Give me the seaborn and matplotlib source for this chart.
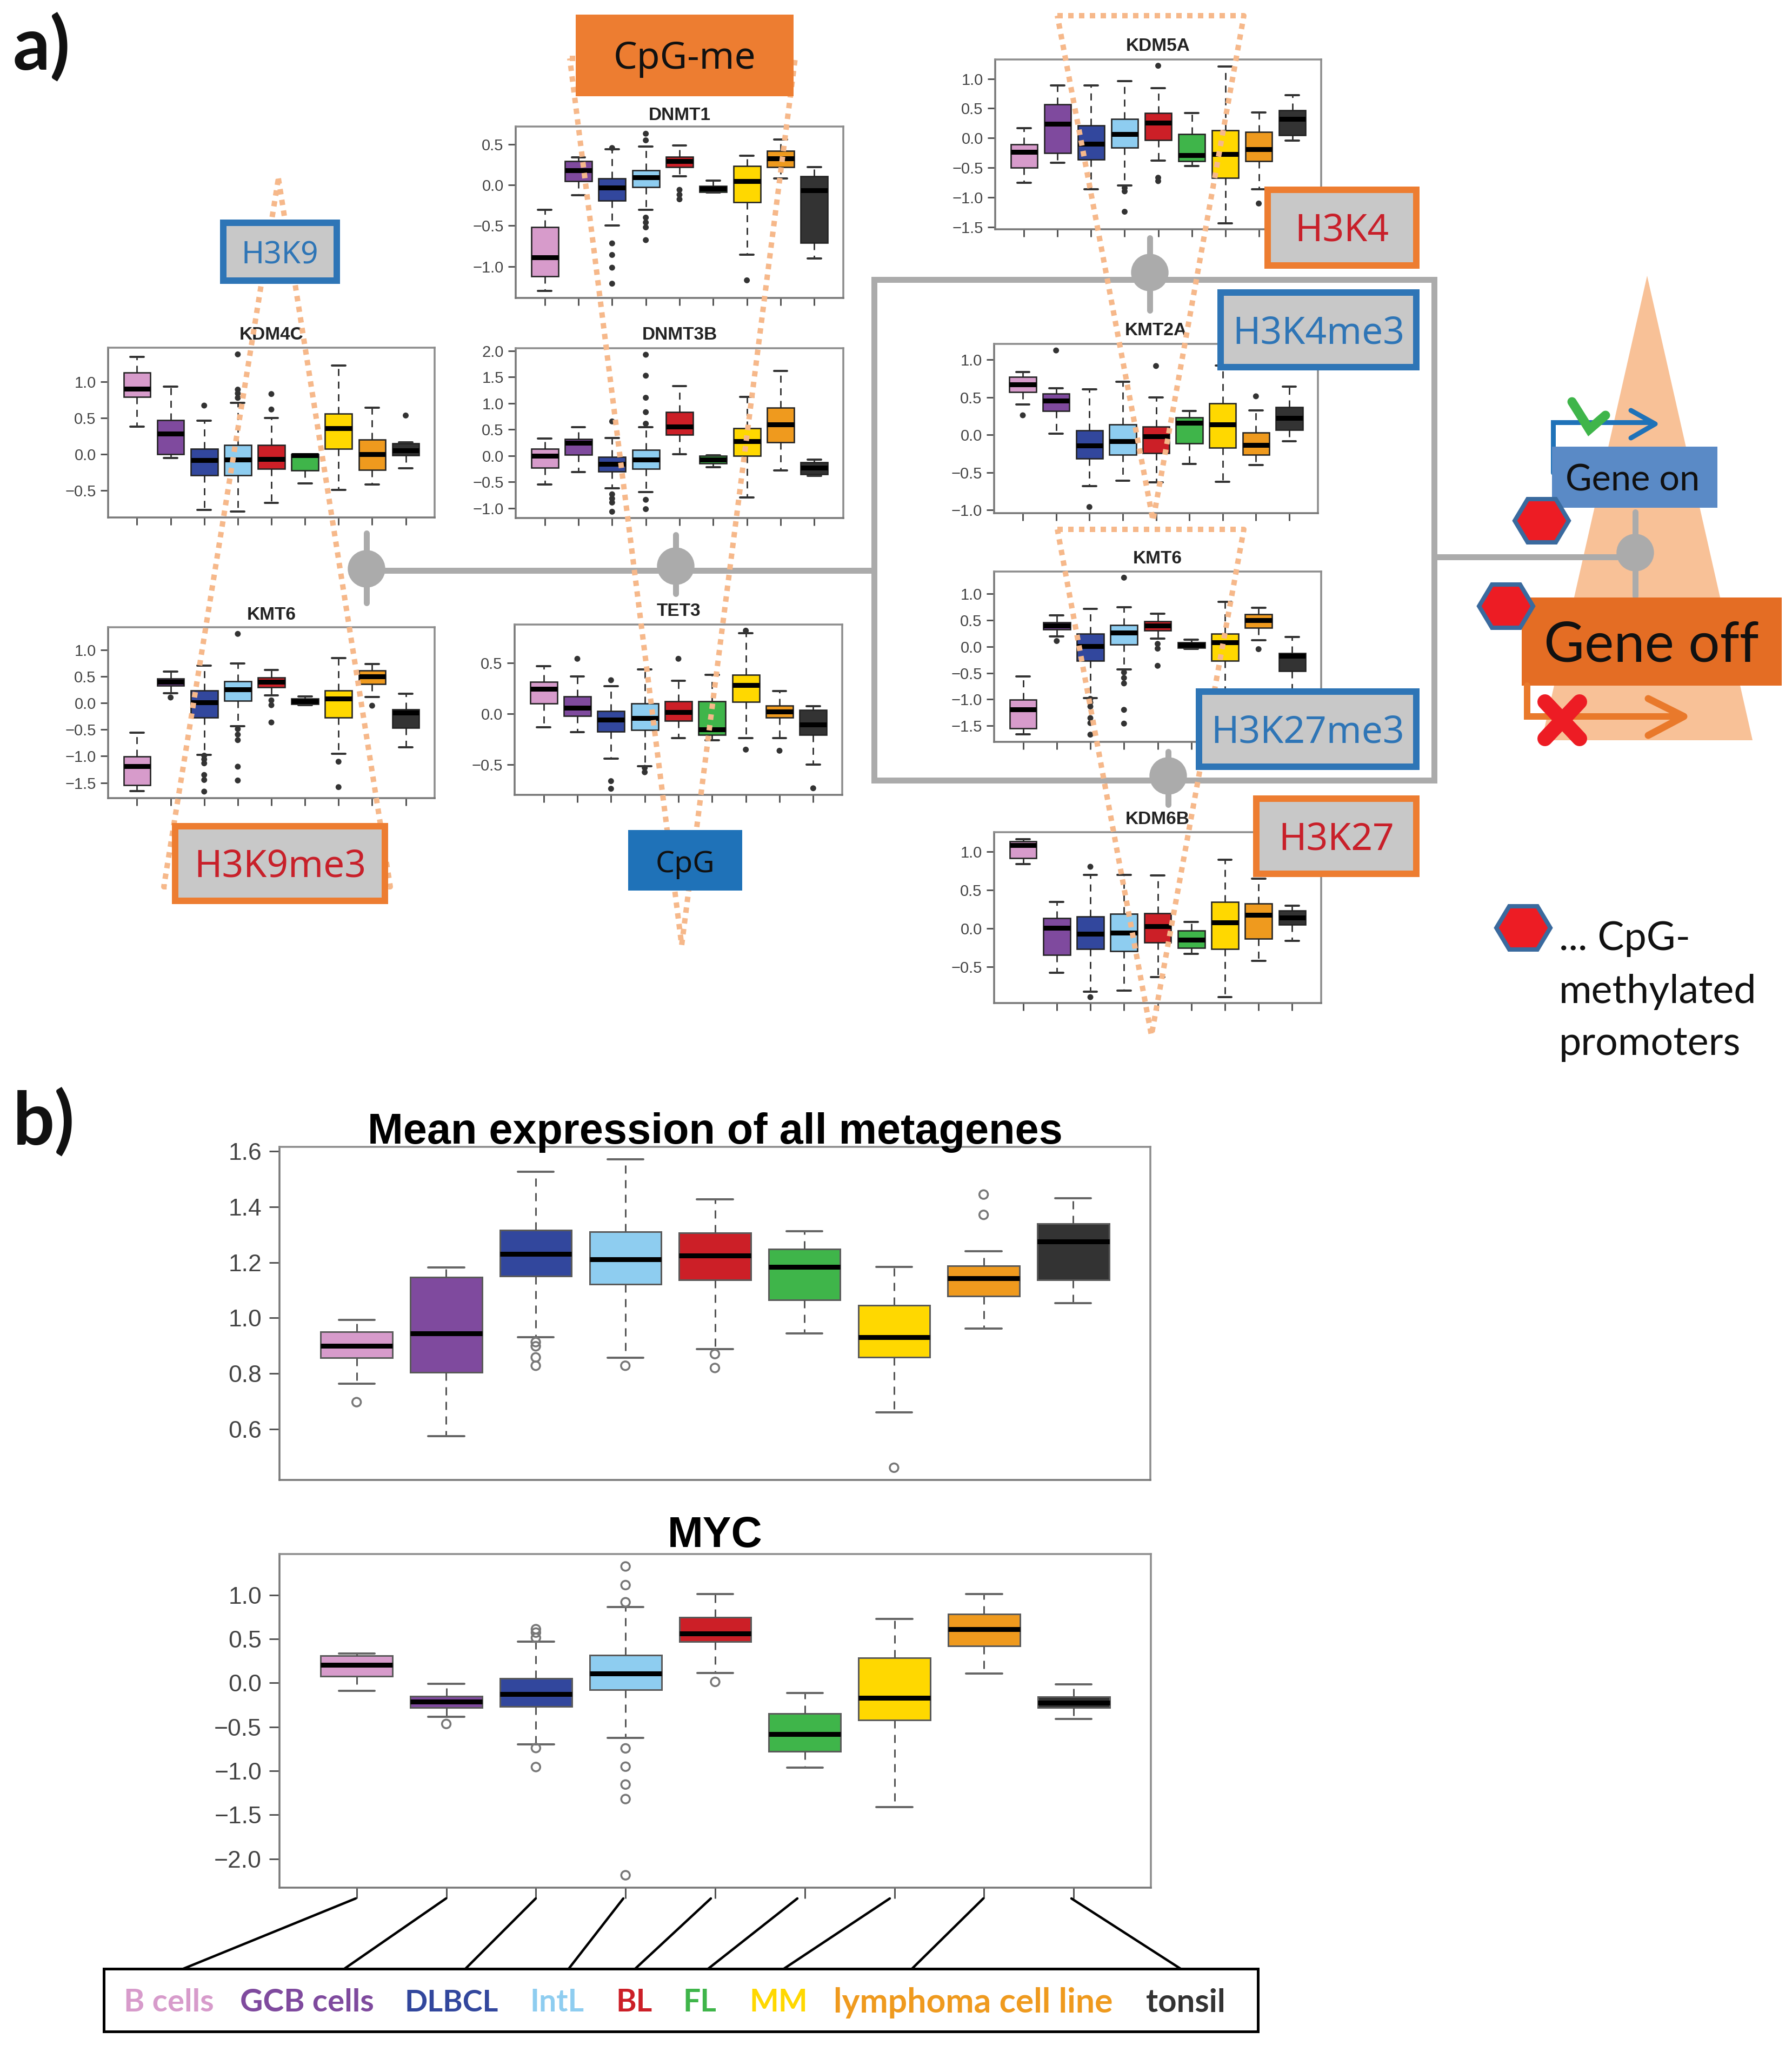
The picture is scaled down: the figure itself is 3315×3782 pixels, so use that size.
import matplotlib
matplotlib.use("Agg")
import matplotlib.pyplot as plt
import pandas as pd
import seaborn as sns
from matplotlib.patches import Rectangle, Polygon, Ellipse

W, H = 3315, 3782

# ---------------- categories and colours ----------------
GROUPS = ["B cells", "GCB cells", "DLBCL", "IntL", "BL", "FL", "MM", "lymphoma cell line", "tonsil"]
COLORS = ["#D79BCB", "#7F4A9E", "#32479D", "#8ECDF0", "#CC1F27", "#3FB54A", "#FFD800", "#EF9A1E", "#333333"]

# ---------------- values: [whisker low, Q1, median, Q3, whisker high] per group; outliers per group ----------------
KDM4C = [[0.38, 0.79, 0.904, 1.125, 1.337], [-0.053, 0.0, 0.281, 0.471, 0.927], [-0.767, -0.289, -0.084, 0.076, 0.464],
         [-0.79, -0.289, -0.076, 0.122, 0.707], [-0.676, -0.205, -0.068, 0.122, 0.5], [-0.403, -0.228, -0.02, 0.0, 0.0],
         [-0.494, 0.076, 0.357, 0.555, 1.223], [-0.418, -0.22, 0.0, 0.198, 0.638], [-0.198, -0.015, 0.053, 0.144, 0.16]]
KDM4C_OUT = [[], [], [0.669], [1.375, 0.889, 0.836, 0.775], [0.828, 0.615], [], [], [], [0.532]]

KMT6 = [[-1.656, -1.55, -1.19, -1.01, -0.5625], [0.1875, 0.323, 0.396, 0.458, 0.594], [-0.98, -0.27, 0.01, 0.24, 0.708],
        [-0.4375, 0.04, 0.26, 0.406, 0.74], [0.146, 0.302, 0.396, 0.479, 0.625], [-0.04, -0.02, 0.03, 0.083, 0.125],
        [-0.958, -0.27, 0.083, 0.24, 0.844], [0.115, 0.354, 0.5, 0.615, 0.73], [-0.833, -0.469, -0.177, -0.125, 0.177]]
KMT6_OUT = [[], [0.104], [-0.99, -1.06, -1.135, -1.354, -1.448, -1.667], [1.302, -0.49, -0.594, -0.698, -1.198, -1.458],
            [0.05, -0.04, -0.365], [], [-1.104, -1.583], [-0.05], []]

DNMT1 = [[-1.297, -1.12, -0.885, -0.52, -0.304], [-0.128, 0.047, 0.182, 0.29, 0.338], [-0.5, -0.19, -0.034, 0.08, 0.44],
         [-0.304, -0.027, 0.095, 0.182, 0.473], [0.108, 0.216, 0.29, 0.345, 0.486], [-0.095, -0.088, -0.047, -0.014, 0.054],
         [-0.858, -0.21, 0.047, 0.23, 0.358], [0.08, 0.216, 0.324, 0.419, 0.554], [-0.899, -0.709, -0.068, 0.108, 0.216]]
DNMT1_OUT = [[], [], [0.453, -0.716, -0.858, -1.014, -1.21], [0.628, 0.547, -0.4, -0.46, -0.52, -0.676],
             [-0.06, -0.12, -0.176], [], [-1.169], [], []]

DNMT3B = [[-0.547, -0.23, 0.0, 0.126, 0.326], [-0.316, 0.02, 0.242, 0.316, 0.547], [-0.62, -0.305, -0.158, -0.02, 0.337],
          [-0.695, -0.253, -0.074, 0.105, 0.547], [0.03, 0.4, 0.558, 0.832, 1.326], [-0.22, -0.147, -0.074, 0.0, 0.01],
          [-0.8, 0.0, 0.274, 0.526, 1.126], [-0.284, 0.253, 0.59, 0.916, 1.62], [-0.39, -0.358, -0.232, -0.126, -0.074]]
DNMT3B_OUT = [[], [], [0.653, -0.737, -0.82, -0.895, -1.07], [1.926, 1.526, 1.105, 0.83, 0.61, -0.842, -1.02],
              [], [], [], [], []]

TET3 = [[-0.13, 0.103, 0.243, 0.314, 0.47], [-0.178, -0.022, 0.06, 0.168, 0.368], [-0.438, -0.173, -0.06, 0.027, 0.27],
        [-0.514, -0.157, -0.043, 0.103, 0.438], [-0.238, -0.07, 0.016, 0.124, 0.324], [-0.26, -0.205, -0.151, 0.124, 0.384],
        [-0.238, 0.119, 0.281, 0.384, 0.79], [-0.238, -0.038, 0.022, 0.081, 0.222], [-0.497, -0.205, -0.108, 0.038, 0.076]]
TET3_OUT = [[], [0.54], [0.33, -0.66, -0.735], [-0.53, -0.573], [0.54], [], [0.816, -0.351], [-0.362], [-0.73]]

KDM5A = [[-0.756, -0.5, -0.238, -0.105, 0.169], [-0.419, -0.256, 0.238, 0.57, 0.89], [-0.866, -0.366, -0.099, 0.21, 0.89],
         [-0.8, -0.163, 0.07, 0.32, 0.965], [-0.378, -0.03, 0.262, 0.419, 0.843], [-0.471, -0.39, -0.285, 0.064, 0.424],
         [-1.436, -0.669, -0.267, 0.128, 1.203], [-0.866, -0.39, -0.186, 0.105, 0.436], [-0.04, 0.052, 0.32, 0.465, 0.727]]
KDM5A_OUT = [[], [], [], [-0.843, -0.9, -1.244], [1.22, -0.67, -0.727], [], [], [-1.105], []]

KMT2A = [[0.404, 0.573, 0.67, 0.775, 0.835], [0.014, 0.321, 0.454, 0.546, 0.624], [-0.683, -0.317, -0.142, 0.06, 0.606],
         [-0.606, -0.261, -0.083, 0.142, 0.706], [-0.628, -0.239, -0.018, 0.11, 0.5], [-0.385, -0.11, 0.16, 0.234, 0.317],
         [-0.624, -0.174, 0.138, 0.417, 0.92], [-0.4, -0.261, -0.133, 0.028, 0.326], [-0.087, 0.069, 0.225, 0.367, 0.642]]
KMT2A_OUT = [[0.261], [1.124], [-0.959], [], [0.917], [], [], [0.514], []]

KDM6B = [[0.838, 0.919, 1.09, 1.135, 1.162], [-0.581, -0.342, 0.005, 0.135, 0.347], [-0.824, -0.266, -0.072, 0.153, 0.703],
         [-0.811, -0.293, -0.059, 0.189, 0.703], [-0.631, -0.18, 0.027, 0.198, 0.689], [-0.333, -0.252, -0.144, -0.027, 0.086],
         [-0.892, -0.266, 0.077, 0.347, 0.9], [-0.423, -0.135, 0.176, 0.324, 0.65], [-0.158, 0.05, 0.14, 0.234, 0.297]]
KDM6B_OUT = [[], [], [0.806, -0.896], [], [], [], [], [], []]

MEAN_ALL = [[0.764, 0.856, 0.90, 0.95, 0.993], [0.575, 0.804, 0.944, 1.147, 1.181], [0.93, 1.151, 1.231, 1.315, 1.527],
            [0.856, 1.121, 1.21, 1.31, 1.57], [0.888, 1.136, 1.225, 1.306, 1.427], [0.945, 1.064, 1.184, 1.248, 1.312],
            [0.66, 0.858, 0.93, 1.045, 1.183], [0.962, 1.079, 1.143, 1.187, 1.24], [1.054, 1.136, 1.276, 1.339, 1.431]]
MEAN_ALL_OUT = [[0.697], [], [0.913, 0.898, 0.858, 0.828], [0.828], [0.87, 0.82], [], [0.461], [1.444, 1.371], []]

MYC = [[-0.09, 0.074, 0.208, 0.309, 0.337], [-0.384, -0.282, -0.21, -0.153, -0.012], [-0.697, -0.27, -0.125, 0.05, 0.47],
       [-0.623, -0.078, 0.106, 0.313, 0.862], [0.11, 0.47, 0.56, 0.748, 1.01], [-0.964, -0.776, -0.58, -0.345, -0.114],
       [-1.41, -0.423, -0.172, 0.282, 0.725], [0.106, 0.423, 0.611, 0.783, 1.01], [-0.407, -0.282, -0.223, -0.16, -0.016]]
MYC_OUT = [[], [-0.466], [0.611, 0.572, 0.513, -0.74, -0.956],
           [1.324, 1.112, 0.917, -0.744, -0.952, -1.155, -1.32, -2.186], [0.012], [], [], [], []]

# ---------------- figure ----------------
sns.set_theme(style="ticks")
plt.rcParams["font.family"] = ["Liberation Sans", "DejaVu Sans"]
fig = plt.figure(figsize=(W / 100, H / 100), dpi=100, facecolor="white")
PT = 72 / 100  # points per output pixel


def make_axes(x0, y0, x1, y1):
    return fig.add_axes([x0 / W, 1 - y1 / H, (x1 - x0) / W, (y1 - y0) / H])


def panel(stats, outliers, frame, ylim, yticks, title, title_y, big=False, bottom_ticks=True):
    ax = make_axes(*frame)
    rows = [(g, v) for g, s in zip(GROUPS, stats) for v in s]
    df = pd.DataFrame(rows, columns=["group", "value"])
    lw = 3.0 if big else 2.6
    sns.boxplot(data=df, x="group", y="value", hue="group", order=GROUPS, hue_order=GROUPS,
                palette=COLORS, saturation=1, width=0.8, whis=(0, 100), showfliers=False, legend=False,
                linecolor="#5a5a5a" if big else "#222222", linewidth=lw * PT, ax=ax,
                medianprops={"color": "black", "linewidth": 9 * PT, "solid_capstyle": "butt"},
                whiskerprops={"linestyle": (0, (5, 4)), "color": "#555555" if big else "#222222"},
                capprops={"color": "#666666" if big else "#333333", "linewidth": 4 * PT})
    out = pd.DataFrame([(i, v) for i, o in enumerate(outliers) for v in o], columns=["pos", "value"])
    if big:
        sns.scatterplot(data=out, x="pos", y="value", s=130, marker="o", facecolor="none",
                        edgecolor="#777777", linewidth=3.5 * PT, ax=ax, zorder=5, legend=False)
    else:
        sns.scatterplot(data=out, x="pos", y="value", s=62, marker="o", color="#333333",
                        edgecolor="none", ax=ax, zorder=5, legend=False)
    ax.set_xlim(-0.861, 8.861)
    ax.set_ylim(*ylim)
    ax.set_yticks(yticks)
    ax.set_xticks(range(9))
    ax.set_xticklabels([])
    ax.set_xlabel("")
    ax.set_ylabel("")
    size = 32 if big else 21
    ax.tick_params(axis="y", length=(19 if big else 14) * PT, width=3 * PT, labelsize=size,
                   color="#555555", labelcolor="#444444", pad=10 if big else 6)
    ax.tick_params(axis="x", length=(20 if big else 14) * PT if bottom_ticks else 0, width=3 * PT, color="#555555")
    for name, spine in ax.spines.items():
        spine.set_visible(True)
        spine.set_color("#777777" if name in ("left", "bottom") else "#8c8c8c")
        spine.set_linewidth(3.5 * PT)
    ax.patch.set_alpha(0)
    fig.text((frame[0] + frame[2]) / 2 / W, 1 - (title_y + (7 if big else 3)) / H, title, ha="center", va="center",
             fontsize=57 if big else 24, fontweight="bold", color="black" if big else "#222222")
    return ax


panel(KDM4C, KDM4C_OUT, (200, 643, 804, 957), (-0.874, 1.467), [-0.5, 0, 0.5, 1.0], "KDM4C", 616)
panel(KMT6, KMT6_OUT, (200, 1160, 804, 1476), (-1.79, 1.427), [-1.5, -1, -0.5, 0, 0.5, 1.0], "KMT6", 1134)
panel(DNMT1, DNMT1_OUT, (954, 234, 1560, 551), (-1.385, 0.716), [-1, -0.5, 0, 0.5], "DNMT1", 210)
panel(DNMT3B, DNMT3B_OUT, (954, 644, 1560, 958), (-1.19, 2.05), [-1, -0.5, 0, 0.5, 1, 1.5, 2], "DNMT3B", 616)
panel(TET3, TET3_OUT, (952, 1155, 1558, 1470), (-0.795, 0.876), [-0.5, 0, 0.5], "TET3", 1128)
panel(KDM5A, KDM5A_OUT, (1841, 110, 2444, 424), (-1.54, 1.326), [-1.5, -1, -0.5, 0, 0.5, 1.0], "KDM5A", 83)
panel(KMT2A, KMT2A_OUT, (1839, 636, 2438, 949), (-1.041, 1.211), [-1, -0.5, 0, 0.5, 1.0], "KMT2A", 609)
panel(KMT6, KMT6_OUT, (1839, 1057, 2444, 1372), (-1.804, 1.418), [-1.5, -1, -0.5, 0, 0.5, 1.0], "KMT6", 1030)
panel(KDM6B, KDM6B_OUT, (1839, 1539, 2444, 1855), (-0.973, 1.257), [-0.5, 0, 0.5, 1.0], "KDM6B", 1513)
panel(MEAN_ALL, MEAN_ALL_OUT, (517, 2121, 2128, 2737), (0.417, 1.6156), [0.6, 0.8, 1.0, 1.2, 1.4, 1.6],
      "Mean expression of all metagenes", 2087, big=True, bottom_ticks=False)
panel(MYC, MYC_OUT, (517, 2874, 2129, 3491), (-2.327, 1.465), [-2, -1.5, -1, -0.5, 0, 0.5, 1.0], "MYC", 2834, big=True)

# ---------------- overlay drawn in image pixels ----------------
ov = fig.add_axes([0, 0, 1, 1], zorder=10)
ov.set_xlim(0, W)
ov.set_ylim(H, 0)
ov.axis("off")
ov.patch.set_alpha(0)

GREY = "#ABABAB"
DOT = "#F6B88A"
BLUE = "#2E75B6"
ORANGE = "#ED7D31"
RED = "#C8202A"
LABEL_BG = "#C8C8C8"
ANNOT_FONT = ["Lato", "DejaVu Sans"]
LABEL_FONT = ["Noto Sans", "DejaVu Sans"]


def line(xs, ys, color, px, z=2, **kw):
    ov.plot(xs, ys, color=color, lw=px * PT, zorder=z, **kw)


# gene-activity triangle
ov.add_patch(Polygon([(3047, 510), (3242, 1369), (2852, 1369)], closed=True, facecolor="#F8C197",
                     edgecolor="none", zorder=1))

# grey wiring
line([678, 1617], [1055, 1055], GREY, 11)
line([2127, 1617, 1617, 2653, 2653, 1617], [517, 517, 1443, 1443, 517, 517], GREY, 11, solid_joinstyle="miter")
line([2653, 3025], [1030, 1030], GREY, 11)
for cx, cy, y0, y1 in [(678, 1052, 986, 1115), (1250, 1047, 989, 1098), (2127, 504, 440, 574),
                       (2161, 1435, 1390, 1488), (3025, 1022, 947, 1102)]:
    line([cx, cx], [y0, y1], GREY, 11)
    ov.add_patch(Ellipse((cx, cy), 68, 68, color=GREY, zorder=2))

# dotted orange triangles
for pts in [[(515, 330), (722, 1640), (303, 1640)],
            [(1054, 108), (1471, 108), (1261, 1748)],
            [(1956, 29), (2301, 29), (2133, 963)],
            [(1956, 979), (2301, 979), (2130, 1915)]]:
    xs = [p[0] for p in pts] + [pts[0][0]]
    ys = [p[1] for p in pts] + [pts[0][1]]
    line(xs, ys, DOT, 10, z=3, linestyle=(0, (1, 1)), dash_capstyle="butt")


def label(x0, y0, x1, y1, text, edge, color, size, face=LABEL_BG):
    ov.add_patch(Rectangle((x0, y0), x1 - x0, y1 - y0, facecolor=face, edgecolor=edge,
                           linewidth=12 * PT if edge != "none" else 0, zorder=4))
    ov.text((x0 + x1) / 2, (y0 + y1) / 2 + 7, text, ha="center", va="center", color=color,
            fontsize=size, family=LABEL_FONT, zorder=5)


label(413, 412, 623, 519, "H3K9", BLUE, BLUE, 41)
label(324, 1528, 712, 1666, "H3K9me3", ORANGE, RED, 50)
label(1162, 1535, 1373, 1647, "CpG", "none", "#111111", 40, face="#1F72B8")
label(1065, 27, 1468, 178, "CpG-me", "none", "#111111", 50, face=ORANGE)
label(2345, 351, 2620, 491, "H3K4", ORANGE, RED, 50)
label(2258, 541, 2620, 679, "H3K4me3", BLUE, BLUE, 50)
label(2218, 1279, 2620, 1418, "H3K27me3", BLUE, BLUE, 50)
label(2324, 1477, 2620, 1616, "H3K27", ORANGE, RED, 50)

# gene on
line([2873, 2873, 3056], [874, 781, 781], "#1F72B8", 9, z=3, solid_joinstyle="miter")
line([3017, 3062, 3017], [759, 784, 810], "#1F72B8", 9, z=3)
line([2908, 2940, 2970], [743, 794, 768], "#3FB54A", 17, z=4, solid_joinstyle="miter")
ov.add_patch(Rectangle((2871, 826), 306, 113, facecolor="#5A8AC6", edgecolor="none", zorder=3))
ov.text(3020, 888, "Gene on", ha="center", va="center", fontsize=48, family=ANNOT_FONT, color="#111111", zorder=5)

# gene off
ov.add_patch(Rectangle((2815, 1105), 481, 163, facecolor="#E46D24", edgecolor="none", zorder=3))
ov.text(3055, 1194, "Gene off", ha="center", va="center", fontsize=74, family=ANNOT_FONT, color="#111111", zorder=5)
line([2825, 2825, 3105], [1268, 1325, 1325], "#E9792B", 12, z=3, solid_joinstyle="miter")
line([3049, 3115, 3049], [1292, 1325, 1360], "#E9792B", 13, z=3)
line([2858, 2922], [1298, 1366], "#ED1C24", 28, z=4)
line([2922, 2858], [1298, 1366], "#ED1C24", 28, z=4)


def hexagon(cx, cy):
    ov.add_patch(Polygon([(cx - 50, cy), (cx - 26, cy - 40), (cx + 26, cy - 40), (cx + 50, cy),
                          (cx + 26, cy + 40), (cx - 26, cy + 40)], closed=True, facecolor="#ED1C24",
                         edgecolor="#3A6A9E", linewidth=8 * PT, zorder=6))


hexagon(2852, 963)
hexagon(2786, 1121)
hexagon(2818, 1716)
for txt, y in zip(["... CpG-", "methylated", "promoters"], [1737, 1834, 1930]):
    ov.text(2884, y, txt, ha="left", va="center", fontsize=53, family=ANNOT_FONT, color="#111111", zorder=5)

# panel letters
ov.text(24, 88, "a)", ha="left", va="center", fontsize=98, fontweight="bold", family=ANNOT_FONT, color="#111111")
ov.text(24, 2076, "b)", ha="left", va="center", fontsize=98, fontweight="bold", family=ANNOT_FONT, color="#111111")

# legend box with connectors
ov.add_patch(Rectangle((192, 3641), 2135, 116, facecolor="white", edgecolor="black", linewidth=5 * PT, zorder=4))
for x0, x1 in [(658, 339), (825, 637), (991, 861), (1153, 1052), (1315, 1175),
               (1475, 1310), (1646, 1450), (1819, 1687), (1982, 2184)]:
    line([x0, x1], [3511, 3641], "black", 4.5, z=3)
for name, col, x0, x1, fs in zip(GROUPS, COLORS,
                                 [227, 445, 753, 980, 1143, 1268, 1384, 1543, 2118],
                                 [398, 690, 917, 1080, 1202, 1321, 1496, 2057, 2268],
                                 [42, 42, 40, 41, 41, 41, 41, 45, 43]):
    ov.text((x0 + x1) / 2, 3704, name, ha="center", va="center", fontsize=fs, fontweight="bold",
            family=ANNOT_FONT, color=col, zorder=5)

fig.savefig("out.png", dpi=100, facecolor="white")
